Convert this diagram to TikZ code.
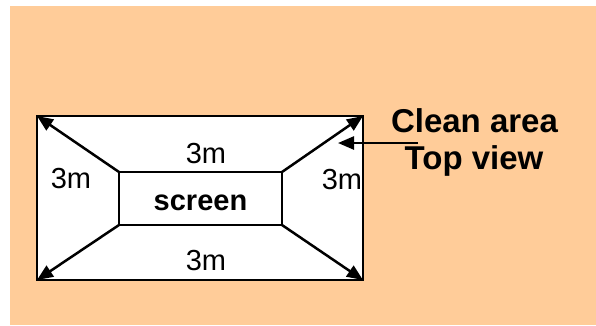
\documentclass[tikz,border=0pt]{standalone}
\usepackage{fontspec}
\setmainfont{Liberation Sans}
\usetikzlibrary{arrows.meta}
\definecolor{peach}{HTML}{FFCC99}
\tikzset{
  boxshape/.style={draw=black, line width=2.5bp, fill=white, rectangle, inner sep=0, outer sep=0},
  diag/.style={line width=2.5bp, -{Triangle[length=16bp,width=13bp]}},
  dimlabel/.style={inner sep=0, anchor=base, font=\fontsize{29bp}{32bp}\selectfont},
  titlelabel/.style={inner sep=0, anchor=base, font=\fontsize{33bp}{36bp}\selectfont\bfseries},
}
\begin{document}
\begin{tikzpicture}[x=1bp,y=-1bp]
\useasboundingbox (0,0) rectangle (596,325);
\fill[peach] (10,6) rectangle (596,325);
\node[boxshape, minimum width=326bp, minimum height=164bp] (outer) at (200,198) {};
\node[boxshape, minimum width=163bp, minimum height=53bp] (screen) at (200.5,198.5) {};
\node[inner sep=0, anchor=base, font=\fontsize{29bp}{32bp}\selectfont\bfseries] (screentxt) at (200.5,210) {screen};
\draw[diag] (screen.north west) -- (outer.north west);
\draw[diag] (screen.south west) -- (outer.south west);
\draw[diag] (screen.north east) -- (outer.north east);
\draw[diag] (screen.south east) -- (outer.south east);
\node[dimlabel] (ltop) at (206,163) {3m};
\node[dimlabel] (lbot) at (206,270) {3m};
\node[dimlabel] (lleft) at (71,188) {3m};
\node[dimlabel] (lright) at (342,189) {3m};
\node[titlelabel] (clean) at (474.5,132) {Clean area};
\node[titlelabel] (topview) at (474,169) {Top view};
\coordinate (arrstart) at (418,143);
\coordinate (arrend) at (338,143);
\draw[diag] (arrstart) -- (arrend);
\end{tikzpicture}
\end{document}
